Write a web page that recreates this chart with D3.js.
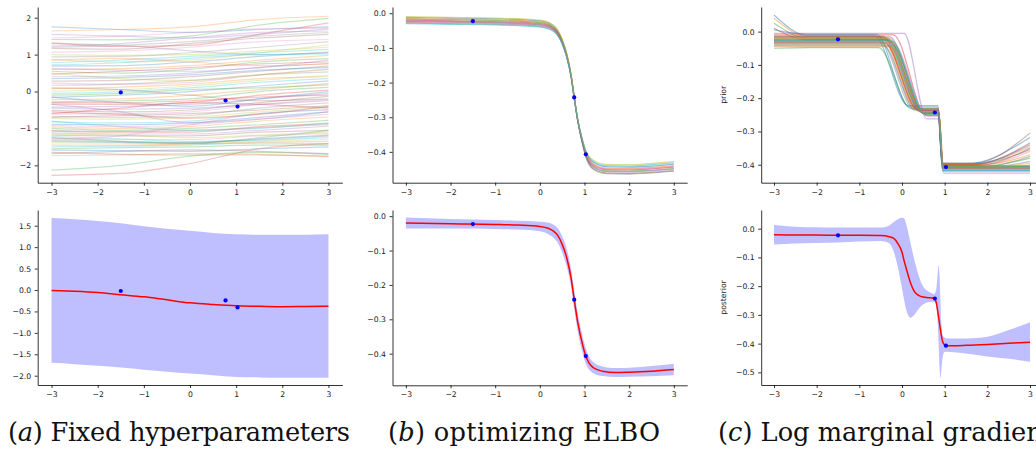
<!DOCTYPE html>
<html>
<head>
<meta charset="utf-8">
<script src="https://cdn.jsdelivr.net/npm/d3@7"></script>
<style>
body { margin: 0; background: #fff; }
.tick text { font-family: "DejaVu Sans", sans-serif; font-size: 7.7px; fill: #222; }
.cap { font-family: "DejaVu Serif", serif; fill: #111; }
</style>
</head>
<body>
<svg id="fig" width="1036" height="455"></svg>
<script>
// observed data points (same in every panel)
var dataX = [-1.5, 0.77, 1.03];
var dataY = [-0.023, -0.243, -0.407];

var xTicks = [-3, -2, -1, 0, 1, 2, 3];

// (a) top: prior samples, read at x = -3, -1.5, 0, 1.5, 3
var aSX = [-3, -1.5, 0, 1.5, 3];
var aSamples = [
  [1.75, 1.68, 1.60, 1.68, 1.75], [1.64, 1.68, 1.75, 1.95, 2.04], [1.41, 1.40, 1.50, 1.80, 1.98],
  [1.32, 1.22, 1.25, 1.55, 1.86], [1.23, 1.30, 1.45, 1.60, 1.64], [1.17, 1.15, 1.30, 1.45, 1.55],
  [1.07, 1.10, 1.20, 1.35, 1.41], [0.94, 0.95, 1.05, 1.20, 1.35], [0.87, 0.80, 0.85, 1.05, 1.26],
  [0.78, 0.85, 0.95, 1.05, 1.14], [0.69, 0.70, 0.80, 0.95, 1.07], [0.60, 0.62, 0.70, 0.85, 0.98],
  [0.55, 0.50, 0.60, 0.80, 0.89], [0.47, 0.55, 0.65, 0.75, 0.80], [0.40, 0.42, 0.50, 0.65, 0.76],
  [0.28, 0.30, 0.40, 0.55, 0.69], [0.23, 0.20, 0.25, 0.45, 0.60], [0.17, 0.20, 0.30, 0.45, 0.53],
  [0.01, 0.05, 0.15, 0.30, 0.44], [-0.05, 0.00, 0.10, 0.25, 0.35], [-0.16, -0.10, 0.00, 0.15, 0.29],
  [-0.22, -0.20, -0.10, 0.05, 0.22], [-0.28, -0.25, -0.20, 0.00, 0.11], [-0.34, -0.35, -0.30, -0.10, 0.04],
  [-0.42, -0.40, -0.35, -0.20, -0.05], [-0.51, -0.55, -0.50, -0.30, -0.13], [-0.61, -0.60, -0.55, -0.35, -0.22],
  [-0.67, -0.70, -0.65, -0.45, -0.31], [-0.73, -0.75, -0.70, -0.55, -0.42], [-0.82, -0.85, -0.80, -0.60, -0.49],
  [-0.89, -0.90, -0.85, -0.70, -0.55], [-0.96, -1.00, -0.95, -0.80, -0.69], [-1.00, -1.05, -1.00, -0.90, -0.78],
  [-1.07, -1.10, -1.10, -0.95, -0.87], [-1.12, -1.15, -1.15, -1.05, -0.94], [-1.18, -1.20, -1.20, -1.10, -1.05],
  [-1.27, -1.30, -1.30, -1.20, -1.14], [-1.32, -1.35, -1.38, -1.30, -1.21], [-1.39, -1.40, -1.42, -1.35, -1.30],
  [-1.50, -1.48, -1.45, -1.40, -1.41], [-1.59, -1.60, -1.62, -1.55, -1.50], [-1.74, -1.72, -1.68, -1.70, -1.77],
  [-2.13, -2.00, -1.75, -1.65, -1.70], [-2.27, -2.22, -1.95, -1.55, -1.41], [-0.35, -0.55, -0.85, -0.75, -0.55],
  [0.10, 0.05, -0.10, -0.25, -0.20], [-1.30, -1.20, -0.90, -0.60, -0.50], [1.30, 1.25, 1.10, 1.00, 1.05],
  [0.50, 0.35, 0.30, 0.45, 0.60], [-0.80, -0.95, -1.05, -1.00, -0.85], [-0.15, -0.30, -0.40, -0.20, 0.00],
  [0.85, 0.90, 0.80, 0.70, 0.75], [-1.25, -1.35, -1.40, -1.25, -1.05], [-0.60, -0.45, -0.30, -0.35, -0.45],
  [1.55, 1.50, 1.45, 1.55, 1.70], [-1.65, -1.70, -1.72, -1.72, -1.75],
  [1.45, 1.50, 1.60, 1.70, 1.72], [1.20, 1.25, 1.35, 1.50, 1.60], [1.00, 0.98, 1.00, 1.10, 1.20],
  [0.72, 0.78, 0.90, 1.00, 1.02], [0.35, 0.38, 0.45, 0.58, 0.65], [0.08, 0.12, 0.20, 0.35, 0.40],
  [-0.10, -0.05, 0.05, 0.10, 0.18], [-0.30, -0.30, -0.25, -0.15, -0.10], [-0.45, -0.48, -0.45, -0.35, -0.25],
  [-0.70, -0.65, -0.60, -0.50, -0.38], [-0.92, -0.95, -0.90, -0.75, -0.62], [-1.05, -1.08, -1.05, -0.98, -0.90],
  [-1.15, -1.18, -1.25, -1.18, -1.10], [-1.22, -1.28, -1.35, -1.32, -1.25], [-1.35, -1.38, -1.40, -1.28, -1.18],
  [-1.45, -1.45, -1.42, -1.38, -1.35], [-1.55, -1.52, -1.50, -1.45, -1.45], [-0.55, -0.62, -0.72, -0.62, -0.40],
  [0.62, 0.58, 0.55, 0.65, 0.85], [-1.68, -1.62, -1.58, -1.62, -1.68]
];

// (a) bottom: posterior mean and band
var aBX = [-3, -2.5, -2, -1.5, -1, -0.5, 0, 0.5, 1, 1.5, 2, 2.5, 3];
var aMean = [-0.01, -0.03, -0.06, -0.11, -0.16, -0.23, -0.30, -0.34, -0.37, -0.38, -0.39, -0.385, -0.38];
var aUpper = [1.68, 1.65, 1.61, 1.56, 1.49, 1.43, 1.38, 1.33, 1.30, 1.29, 1.29, 1.29, 1.30];
var aLower = [-1.70, -1.73, -1.77, -1.81, -1.86, -1.91, -1.95, -1.99, -2.03, -2.04, -2.05, -2.05, -2.05];

// (b) top: samples after optimizing the ELBO
var bSX = [-3, -2, -1, 0, 0.3, 0.5, 0.6, 0.7, 0.77, 0.85, 0.95, 1.03, 1.2, 1.5, 2, 2.5, 3];
var bSamples = [
  [-0.012, -0.014, -0.016, -0.022, -0.036, -0.076, -0.116, -0.178, -0.242, -0.307, -0.364, -0.399, -0.431, -0.443, -0.444, -0.441, -0.436],
  [-0.015, -0.017, -0.019, -0.025, -0.039, -0.079, -0.118, -0.179, -0.243, -0.309, -0.367, -0.402, -0.435, -0.447, -0.448, -0.445, -0.440],
  [-0.017, -0.019, -0.021, -0.027, -0.041, -0.080, -0.119, -0.180, -0.244, -0.311, -0.371, -0.409, -0.443, -0.455, -0.456, -0.453, -0.448],
  [-0.020, -0.022, -0.024, -0.030, -0.043, -0.082, -0.121, -0.181, -0.243, -0.310, -0.369, -0.406, -0.439, -0.451, -0.452, -0.449, -0.444],
  [-0.022, -0.024, -0.026, -0.032, -0.045, -0.084, -0.122, -0.182, -0.244, -0.311, -0.372, -0.410, -0.445, -0.457, -0.458, -0.455, -0.450],
  [-0.024, -0.026, -0.028, -0.034, -0.047, -0.086, -0.124, -0.183, -0.245, -0.312, -0.374, -0.413, -0.449, -0.461, -0.462, -0.459, -0.454],
  [-0.026, -0.028, -0.030, -0.036, -0.048, -0.087, -0.125, -0.183, -0.244, -0.309, -0.368, -0.404, -0.437, -0.449, -0.450, -0.447, -0.442],
  [-0.028, -0.030, -0.032, -0.038, -0.050, -0.088, -0.126, -0.184, -0.246, -0.313, -0.375, -0.415, -0.451, -0.463, -0.464, -0.461, -0.456],
  [-0.010, -0.012, -0.014, -0.020, -0.034, -0.075, -0.115, -0.177, -0.241, -0.306, -0.362, -0.396, -0.424, -0.436, -0.437, -0.433, -0.428],
  [-0.030, -0.032, -0.034, -0.040, -0.052, -0.089, -0.127, -0.184, -0.244, -0.308, -0.364, -0.399, -0.428, -0.440, -0.441, -0.437, -0.432]
];

// (b) bottom: posterior mean and band
var bBX = [-3, -2, -1, -0.5, 0, 0.2, 0.3, 0.4, 0.5, 0.6, 0.7, 0.77, 0.85, 0.95, 1.03, 1.1, 1.2, 1.4, 1.7, 2, 2.5, 3];
var bMean = [-0.020, -0.022, -0.024, -0.026, -0.030, -0.036, -0.043, -0.056, -0.082, -0.120, -0.180, -0.243, -0.310, -0.370, -0.407, -0.427, -0.441, -0.451, -0.455, -0.454, -0.451, -0.446];
var bUpper = [-0.004, -0.008, -0.011, -0.013, -0.016, -0.019, -0.024, -0.035, -0.058, -0.094, -0.153, -0.216, -0.283, -0.345, -0.385, -0.408, -0.425, -0.437, -0.442, -0.441, -0.436, -0.429];
var bLower = [-0.036, -0.036, -0.037, -0.039, -0.044, -0.053, -0.062, -0.077, -0.106, -0.146, -0.207, -0.270, -0.337, -0.395, -0.429, -0.446, -0.457, -0.465, -0.468, -0.467, -0.466, -0.463];

// (c) top: prior samples with log marginal gradient (knot points of each line)
var cSamples = [
  [[-3, 0.050], [-2.2, -0.012], [-0.65, -0.012], [0.14, -0.222], [0.84, -0.222], [0.95, -0.398], [1.5, -0.398], [3, -0.318]],
  [[-3, 0.040], [-2.2, -0.015], [-0.50, -0.015], [0.32, -0.230], [0.85, -0.230], [0.96, -0.400], [1.6, -0.400], [3, -0.345]],
  [[-3, 0.025], [-2.2, -0.020], [-0.40, -0.020], [0.42, -0.235], [0.86, -0.235], [0.96, -0.405], [2.0, -0.405], [3, -0.405]],
  [[-3, 0.010], [-2.2, -0.025], [-0.35, -0.025], [0.47, -0.240], [0.85, -0.240], [0.95, -0.410], [2.0, -0.410], [3, -0.410]],
  [[-3, -0.005], [-2.2, -0.005], [0.05, -0.005], [0.58, -0.262], [0.87, -0.262], [0.97, -0.425], [2.0, -0.425], [3, -0.425]],
  [[-3, -0.015], [-2.2, -0.015], [-0.45, -0.015], [0.37, -0.232], [0.84, -0.232], [0.94, -0.395], [1.7, -0.395], [3, -0.305]],
  [[-3, -0.020], [-2.2, -0.020], [-0.30, -0.020], [0.52, -0.245], [0.86, -0.245], [0.96, -0.402], [1.8, -0.402], [3, -0.360]],
  [[-3, -0.025], [-2.2, -0.025], [-0.40, -0.025], [0.42, -0.238], [0.85, -0.238], [0.95, -0.408], [1.8, -0.408], [3, -0.375]],
  [[-3, -0.030], [-2.2, -0.030], [-0.25, -0.030], [0.57, -0.250], [0.86, -0.250], [0.97, -0.412], [1.9, -0.412], [3, -0.400]],
  [[-3, -0.035], [-2.2, -0.035], [-0.35, -0.035], [0.47, -0.243], [0.85, -0.243], [0.96, -0.415], [2.0, -0.415], [3, -0.415]],
  [[-3, -0.040], [-2.2, -0.040], [-0.45, -0.040], [0.32, -0.236], [0.84, -0.236], [0.95, -0.418], [2.0, -0.418], [3, -0.418]],
  [[-3, -0.045], [-2.2, -0.045], [-0.30, -0.045], [0.52, -0.248], [0.86, -0.248], [0.96, -0.420], [2.0, -0.420], [3, -0.420]],
  [[-3, -0.050], [-2.2, -0.048], [-0.55, -0.048], [0.22, -0.232], [0.85, -0.232], [0.95, -0.405], [1.8, -0.405], [3, -0.380]],
  [[-3, -0.010], [-2.2, -0.010], [-0.20, -0.010], [0.57, -0.252], [0.87, -0.252], [0.97, -0.398], [1.7, -0.398], [3, -0.335]],
  [[-3, -0.018], [-2.2, -0.018], [-0.37, -0.018], [0.44, -0.240], [0.86, -0.240], [0.96, -0.403], [2.0, -0.403], [3, -0.403]],
  [[-3, -0.022], [-2.2, -0.022], [-0.33, -0.022], [0.50, -0.244], [0.85, -0.244], [0.95, -0.400], [1.6, -0.400], [3, -0.355]],
  [[-3, -0.028], [-2.2, -0.028], [-0.43, -0.028], [0.40, -0.238], [0.86, -0.238], [0.96, -0.410], [2.0, -0.410], [3, -0.410]],
  [[-3, -0.032], [-2.2, -0.032], [-0.27, -0.032], [0.54, -0.247], [0.85, -0.247], [0.96, -0.406], [2.0, -0.406], [3, -0.406]],
  [[-3, -0.038], [-2.2, -0.038], [-0.39, -0.038], [0.42, -0.241], [0.86, -0.241], [0.97, -0.413], [2.0, -0.413], [3, -0.413]],
  [[-3, -0.042], [-2.2, -0.042], [-0.23, -0.042], [0.57, -0.252], [0.85, -0.252], [0.95, -0.417], [2.0, -0.417], [3, -0.417]],
  [[-3, 0.005], [-2.2, -0.008], [-0.60, -0.008], [0.17, -0.226], [0.84, -0.226], [0.94, -0.396], [1.7, -0.396], [3, -0.340]],
  [[-3, -0.012], [-2.2, -0.012], [-0.47, -0.012], [0.34, -0.234], [0.85, -0.234], [0.95, -0.399], [1.9, -0.399], [3, -0.370]],
  [[-3, -0.026], [-2.2, -0.026], [-0.31, -0.026], [0.48, -0.243], [0.86, -0.243], [0.96, -0.404], [2.0, -0.404], [3, -0.404]],
  [[-3, -0.034], [-2.2, -0.034], [-0.41, -0.034], [0.38, -0.237], [0.85, -0.237], [0.96, -0.409], [2.0, -0.409], [3, -0.409]],
  [[-3, -0.024], [-2.2, -0.024], [-0.35, -0.024], [0.46, -0.242], [0.86, -0.242], [0.96, -0.407], [2.0, -0.407], [3, -0.390]],
  [[-3, -0.016], [-2.2, -0.016], [-0.29, -0.016], [0.52, -0.246], [0.85, -0.246], [0.95, -0.401], [1.8, -0.401], [3, -0.350]],
  [[-3, -0.036], [-2.2, -0.036], [-0.21, -0.036], [0.60, -0.255], [0.86, -0.255], [0.97, -0.414], [2.0, -0.414], [3, -0.414]],
  [[-3, -0.030], [-2.2, -0.030], [-0.50, -0.030], [0.27, -0.233], [0.85, -0.233], [0.95, -0.411], [2.0, -0.411], [3, -0.411]],
  [[-3, -0.020], [-2.2, -0.020], [-0.37, -0.020], [0.48, -0.241], [0.86, -0.241], [0.96, -0.406], [2.0, -0.406], [3, -0.395]],
  [[-3, -0.028], [-2.2, -0.028], [-0.25, -0.028], [0.56, -0.249], [0.85, -0.249], [0.96, -0.408], [2.0, -0.408], [3, -0.408]]
];

// (c) bottom: posterior mean and band
var cBX = [-3, -2.5, -2, -1.5, -1, -0.5, -0.3, -0.2, -0.1, 0, 0.05, 0.1, 0.2, 0.3, 0.4, 0.5, 0.6, 0.7, 0.75, 0.8, 0.84, 0.86, 0.88, 0.9, 0.92, 0.95, 1.0, 1.05, 1.2, 1.5, 2, 2.5, 3];
var cMean = [-0.021, -0.022, -0.022, -0.023, -0.023, -0.024, -0.028, -0.033, -0.051, -0.082, -0.112, -0.139, -0.189, -0.221, -0.233, -0.238, -0.240, -0.241, -0.242, -0.255, -0.290, -0.310, -0.330, -0.350, -0.370, -0.392, -0.405, -0.407, -0.407, -0.406, -0.403, -0.399, -0.395];
var cUpper = [0.013, 0.007, 0.005, 0.004, 0.004, 0.004, 0.011, 0.022, 0.033, 0.038, 0.036, 0.015, -0.051, -0.115, -0.167, -0.202, -0.217, -0.225, -0.228, -0.213, -0.150, -0.126, -0.161, -0.242, -0.324, -0.370, -0.379, -0.382, -0.382, -0.382, -0.376, -0.353, -0.326];
var cLower = [-0.055, -0.052, -0.050, -0.048, -0.045, -0.043, -0.051, -0.078, -0.132, -0.208, -0.248, -0.283, -0.310, -0.298, -0.277, -0.263, -0.256, -0.254, -0.254, -0.266, -0.335, -0.405, -0.486, -0.519, -0.498, -0.451, -0.428, -0.428, -0.430, -0.434, -0.445, -0.453, -0.463];

var captions = [
  {letter: "a", text: " Fixed hyperparameters", x: 8, width: 342},
  {letter: "b", text: " optimizing ELBO", x: 388, width: 272},
  {letter: "c", text: " Log marginal gradient", x: 718, width: null}
];

var svg = d3.select("#fig");
var colors = d3.schemeCategory10;

function makePanel(box, yDom, yTicks, yFmt) {
  var x = d3.scaleLinear().domain([-3.3, 3.3]).range([box.left, box.right]);
  var y = d3.scaleLinear().domain(yDom).range([box.bottom, box.top]);
  var g = svg.append("g");
  return {g: g, x: x, y: y, box: box, yTicks: yTicks, yFmt: yFmt};
}

function drawAxes(p) {
  var xa = p.g.append("g")
    .attr("transform", "translate(0," + p.box.bottom + ")")
    .call(d3.axisBottom(p.x).tickValues(xTicks).tickFormat(d3.format("d"))
      .tickSize(3).tickPadding(3.5).tickSizeOuter(0));
  var ya = p.g.append("g")
    .attr("transform", "translate(" + p.box.left + ",0)")
    .call(d3.axisLeft(p.y).tickValues(p.yTicks).tickFormat(d3.format(p.yFmt))
      .tickSize(3).tickPadding(3.5).tickSizeOuter(0));
  [xa, ya].forEach(function(a) {
    a.select(".domain").attr("stroke", "#000").attr("stroke-width", 0.8);
    a.selectAll(".tick line").attr("stroke", "#000").attr("stroke-width", 0.8);
  });
}

function drawPoints(p) {
  p.g.append("g").selectAll("circle")
    .data(dataX)
    .enter().append("circle")
      .attr("cx", function(d) { return p.x(d); })
      .attr("cy", function(d, i) { return p.y(dataY[i]); })
      .attr("r", 2.1)
      .attr("fill", "blue");
}

function drawBand(p, xs, mean, upper, lower) {
  var area = d3.area()
    .x(function(d) { return p.x(xs[d]); })
    .y0(function(d) { return p.y(lower[d]); })
    .y1(function(d) { return p.y(upper[d]); })
    .curve(d3.curveMonotoneX);
  var idx = d3.range(xs.length);
  p.g.append("path").datum(idx)
    .attr("d", area)
    .attr("fill", "blue")
    .attr("fill-opacity", 0.25);
  var line = d3.line()
    .x(function(d) { return p.x(xs[d]); })
    .y(function(d) { return p.y(mean[d]); })
    .curve(d3.curveMonotoneX);
  p.g.append("path").datum(idx)
    .attr("d", line)
    .attr("fill", "none")
    .attr("stroke", "red")
    .attr("stroke-width", 1.5);
}

function drawSamples(p, lines, opacity, width) {
  var line = d3.line()
    .x(function(d) { return p.x(d[0]); })
    .y(function(d) { return p.y(d[1]); })
    .curve(d3.curveMonotoneX);
  p.g.append("g").selectAll("path")
    .data(lines)
    .enter().append("path")
      .attr("d", line)
      .attr("fill", "none")
      .attr("stroke", function(d, i) { return colors[i % 10]; })
      .attr("stroke-opacity", opacity)
      .attr("stroke-width", width);
}

function onGrid(xs, rows) {
  return rows.map(function(r) { return r.map(function(v, i) { return [xs[i], v]; }); });
}

// panel (a)
var aTop = makePanel({left: 37.7, right: 342.3, top: 7, bottom: 182.7}, [-2.47, 2.29], [-2, -1, 0, 1, 2], "d");
drawSamples(aTop, onGrid(aSX, aSamples), 0.28, 1.2);
drawPoints(aTop);
drawAxes(aTop);

var aBot = makePanel({left: 37.7, right: 342.3, top: 210, bottom: 385}, [-2.217, 1.867], [-2, -1.5, -1, -0.5, 0, 0.5, 1, 1.5], ".1f");
drawBand(aBot, aBX, aMean, aUpper, aLower);
drawPoints(aBot);
drawAxes(aBot);

// panel (b)
var bTop = makePanel({left: 392.5, right: 687.2, top: 7, bottom: 182.7}, [-0.489, 0.018], [-0.4, -0.3, -0.2, -0.1, 0], ".1f");
drawSamples(bTop, onGrid(bSX, bSamples), 0.5, 1.2);
drawPoints(bTop);
drawAxes(bTop);

var bBot = makePanel({left: 392.5, right: 687.2, top: 210, bottom: 385.3}, [-0.492, 0.018], [-0.4, -0.3, -0.2, -0.1, 0], ".1f");
drawBand(bBot, bBX, bMean, bUpper, bLower);
drawPoints(bBot);
drawAxes(bBot);

// panel (c)
var cTop = makePanel({left: 761.2, right: 1042.8, top: 7, bottom: 182.7}, [-0.454, 0.074], [-0.4, -0.3, -0.2, -0.1, 0], ".1f");
drawSamples(cTop, cSamples, 0.45, 1.2);
drawPoints(cTop);
drawAxes(cTop);

var cBot = makePanel({left: 761.2, right: 1042.8, top: 210, bottom: 385}, [-0.544, 0.065], [-0.5, -0.4, -0.3, -0.2, -0.1, 0], ".1f");
drawBand(cBot, cBX, cMean, cUpper, cLower);
drawPoints(cBot);
drawAxes(cBot);

// y labels of panel (c)
[["prior", 94.85], ["posterior", 297.5]].forEach(function(l) {
  svg.append("text")
    .attr("transform", "translate(726," + l[1] + ") rotate(-90)")
    .attr("text-anchor", "middle")
    .style("font-family", "DejaVu Sans, sans-serif")
    .style("font-size", "7.7px")
    .style("fill", "#222")
    .text(l[0]);
});

// captions: one font size for all three, fitted to the widths of (a) and (b)
var capNodes = captions.map(function(c) {
  var t = svg.append("text").attr("class", "cap").attr("x", c.x).attr("y", 441)
    .style("font-size", "24px");
  t.append("tspan").text("(");
  t.append("tspan").style("font-style", "italic").text(c.letter);
  t.append("tspan").text(")" + c.text);
  return t;
});
var ratio = (captions[0].width / capNodes[0].node().getComputedTextLength() +
             captions[1].width / capNodes[1].node().getComputedTextLength()) / 2;
capNodes.forEach(function(t, i) {
  t.style("font-size", (24 * ratio) + "px");
  if (captions[i].width) t.attr("textLength", captions[i].width).attr("lengthAdjust", "spacing");
});
</script>
</body>
</html>
